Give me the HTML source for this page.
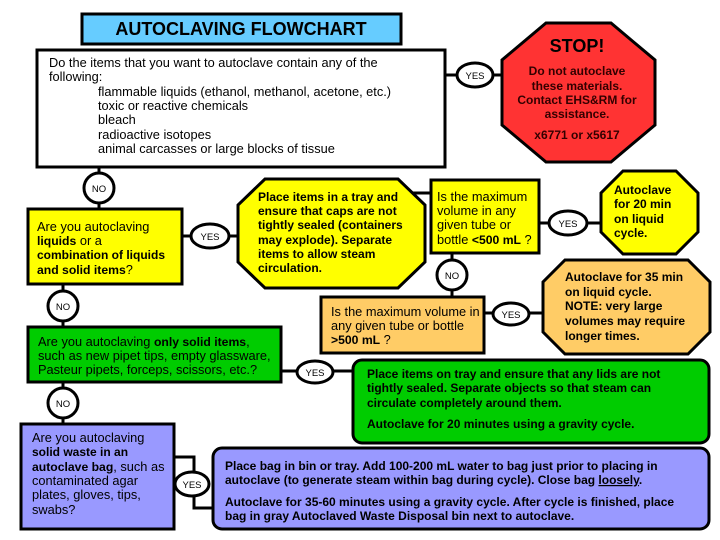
<!DOCTYPE html>
<html><head><meta charset="utf-8"><style>
html,body{margin:0;padding:0;background:#fff;width:720px;height:540px;overflow:hidden}
svg{display:block}
text{font-family:"Liberation Sans",Arial,sans-serif;font-size:12.8px;fill:#000}
.b{font-weight:bold;font-size:12px}
tspan.b{font-size:12.2px}
.o{font-size:9.5px}
</style></head><body>
<svg width="720" height="540" viewBox="0 0 720 540" xmlns="http://www.w3.org/2000/svg">
<g stroke="#000" stroke-width="3">
<line x1="446" y1="75" x2="505" y2="75"/>
<line x1="99" y1="168" x2="99" y2="210"/>
<line x1="182" y1="236" x2="245" y2="236"/>
<line x1="405" y1="193" x2="432" y2="193"/>
<line x1="452" y1="254" x2="452" y2="297"/>
<line x1="539" y1="223" x2="605" y2="223"/>
<line x1="484" y1="313" x2="548" y2="313"/>
<line x1="63" y1="285" x2="63" y2="328"/>
<line x1="281" y1="371" x2="354" y2="371"/>
<line x1="63" y1="383" x2="63" y2="424"/>
<polyline fill="none" points="174,457 194,457 194,508 214,508"/>
<rect x="82" y="14" width="319" height="30" fill="#66ccff"/>
<rect x="37" y="50" width="408" height="117" fill="#fff"/>
<polygon points="546,23 611,23 655,60 655,125 611,162 546,162 502,125 502,60" fill="#ff3333"/>
<rect x="28" y="209" width="154" height="75" fill="#ffff00"/>
<polygon points="265,179 398,179 425,205 425,262 398,288 265,288 238,262 238,205" fill="#ffff00"/>
<rect x="431" y="180" width="108" height="73" fill="#ffff00"/>
<polygon points="623,171 676,171 698,193 698,232 676,254 623,254 601,232 601,193" fill="#ffff00"/>
<rect x="321" y="297" width="163" height="56" fill="#ffcc66"/>
<polygon points="565,260 688,260 710,282 710,332 688,354 565,354 543,332 543,282" fill="#ffcc66"/>
<rect x="28" y="327" width="253" height="55" fill="#00cc00"/>
<rect x="353" y="360" width="356" height="83" rx="9" fill="#00cc00"/>
<rect x="21" y="424" width="153" height="105" fill="#9999ff"/>
<rect x="213" y="448" width="496" height="81" rx="9" fill="#9999ff"/>
<ellipse cx="475" cy="75" rx="18" ry="12" fill="#fff"/>
<ellipse cx="99" cy="188" rx="15" ry="15" fill="#fff"/>
<ellipse cx="210" cy="236" rx="19" ry="12" fill="#fff"/>
<ellipse cx="568" cy="223" rx="19" ry="12" fill="#fff"/>
<ellipse cx="452" cy="275" rx="15" ry="15" fill="#fff"/>
<ellipse cx="511" cy="314" rx="18" ry="11" fill="#fff"/>
<ellipse cx="63" cy="306" rx="15" ry="15" fill="#fff"/>
<ellipse cx="315" cy="372" rx="18" ry="11" fill="#fff"/>
<ellipse cx="63" cy="403" rx="15" ry="15" fill="#fff"/>
<ellipse cx="192" cy="484" rx="17" ry="12" fill="#fff"/>
</g>
<g text-anchor="middle">
<text x="475" y="79" class="o">YES</text>
<text x="99" y="192" class="o">NO</text>
<text x="210" y="240" class="o">YES</text>
<text x="568" y="227" class="o">YES</text>
<text x="452" y="279" class="o">NO</text>
<text x="511" y="318" class="o">YES</text>
<text x="63" y="310" class="o">NO</text>
<text x="315" y="376" class="o">YES</text>
<text x="63" y="407" class="o">NO</text>
<text x="192" y="488" class="o">YES</text>
</g>
<text x="241" y="35" class="b" text-anchor="middle" style="font-size:18px">AUTOCLAVING FLOWCHART</text>
<g>
<text x="49" y="67">Do the items that you want to autoclave contain any of the</text>
<text x="49" y="81">following:</text>
<text x="98" y="96">flammable liquids (ethanol, methanol, acetone, etc.)</text>
<text x="98" y="110">toxic or reactive chemicals</text>
<text x="98" y="124">bleach</text>
<text x="98" y="139">radioactive isotopes</text>
<text x="98" y="153">animal carcasses or large blocks of tissue</text>
</g>
<g text-anchor="middle">
<text x="577" y="52" class="b" style="font-size:18px">STOP!</text>
<text x="577" y="75" class="b" style="fill:#300">Do not autoclave</text>
<text x="577" y="90" class="b" style="fill:#300">these materials.</text>
<text x="577" y="104" class="b" style="fill:#300">Contact EHS&amp;RM for</text>
<text x="577" y="118" class="b" style="fill:#300">assistance.</text>
<text x="577" y="139" class="b" style="fill:#300">x6771 or  x5617</text>
</g>
<g>
<text x="37" y="231">Are you autoclaving</text>
<text x="37" y="245"><tspan class="b">liquids</tspan> or a</text>
<text x="37" y="259" class="b">combination of liquids</text>
<text x="37" y="274"><tspan class="b">and solid items</tspan>?</text>
</g>
<g>
<text x="258" y="201" class="b">Place items in a tray and</text>
<text x="258" y="215" class="b">ensure that caps are not</text>
<text x="258" y="229" class="b">tightly sealed (containers</text>
<text x="258" y="244" class="b">may explode).  Separate</text>
<text x="258" y="258" class="b">items to allow steam</text>
<text x="258" y="272" class="b">circulation.</text>
</g>
<g>
<text x="437" y="201">Is the maximum</text>
<text x="437" y="215">volume in any</text>
<text x="437" y="229">given tube or</text>
<text x="437" y="244">bottle <tspan class="b">&lt;500 mL</tspan> ?</text>
</g>
<g>
<text x="614" y="194" class="b">Autoclave</text>
<text x="614" y="208" class="b">for 20 min</text>
<text x="614" y="223" class="b">on liquid</text>
<text x="614" y="237" class="b">cycle.</text>
</g>
<g>
<text x="331" y="316">Is the maximum volume in</text>
<text x="331" y="330">any given tube or bottle</text>
<text x="331" y="344"><tspan class="b">&gt;500 mL</tspan> ?</text>
</g>
<g>
<text x="565" y="281" class="b">Autoclave for 35 min</text>
<text x="565" y="296" class="b">on liquid cycle.</text>
<text x="565" y="310" class="b">NOTE: very large</text>
<text x="565" y="325" class="b">volumes may require</text>
<text x="565" y="340" class="b">longer times.</text>
</g>
<g>
<text x="38" y="346">Are you autoclaving <tspan class="b">only solid items</tspan>,</text>
<text x="38" y="360">such as new pipet tips, empty glassware,</text>
<text x="38" y="374">Pasteur pipets, forceps, scissors, etc.?</text>
</g>
<g>
<text x="367" y="378" class="b">Place items on tray and ensure that any lids are not</text>
<text x="367" y="392" class="b">tightly sealed.  Separate objects so that steam can</text>
<text x="367" y="407" class="b">circulate completely around them.</text>
<text x="367" y="428" class="b">Autoclave for 20 minutes using a gravity cycle.</text>
</g>
<g>
<text x="32" y="442">Are you autoclaving</text>
<text x="32" y="456" class="b">solid waste in an</text>
<text x="32" y="471"><tspan class="b">autoclave bag</tspan>, such as</text>
<text x="32" y="485">contaminated agar</text>
<text x="32" y="499">plates, gloves, tips,</text>
<text x="32" y="514">swabs?</text>
</g>
<g>
<text x="225" y="470" class="b">Place bag in bin or tray.  Add 100-200 mL water to bag just prior to placing in</text>
<text x="225" y="484" class="b">autoclave (to generate steam within bag during cycle).  Close bag <tspan text-decoration="underline">loosely</tspan>.</text>
<text x="225" y="506" class="b">Autoclave for 35-60 minutes using a gravity cycle.  After cycle is finished, place</text>
<text x="225" y="520" class="b">bag in gray Autoclaved Waste Disposal bin next to autoclave.</text>
</g>
</svg>
</body></html>
